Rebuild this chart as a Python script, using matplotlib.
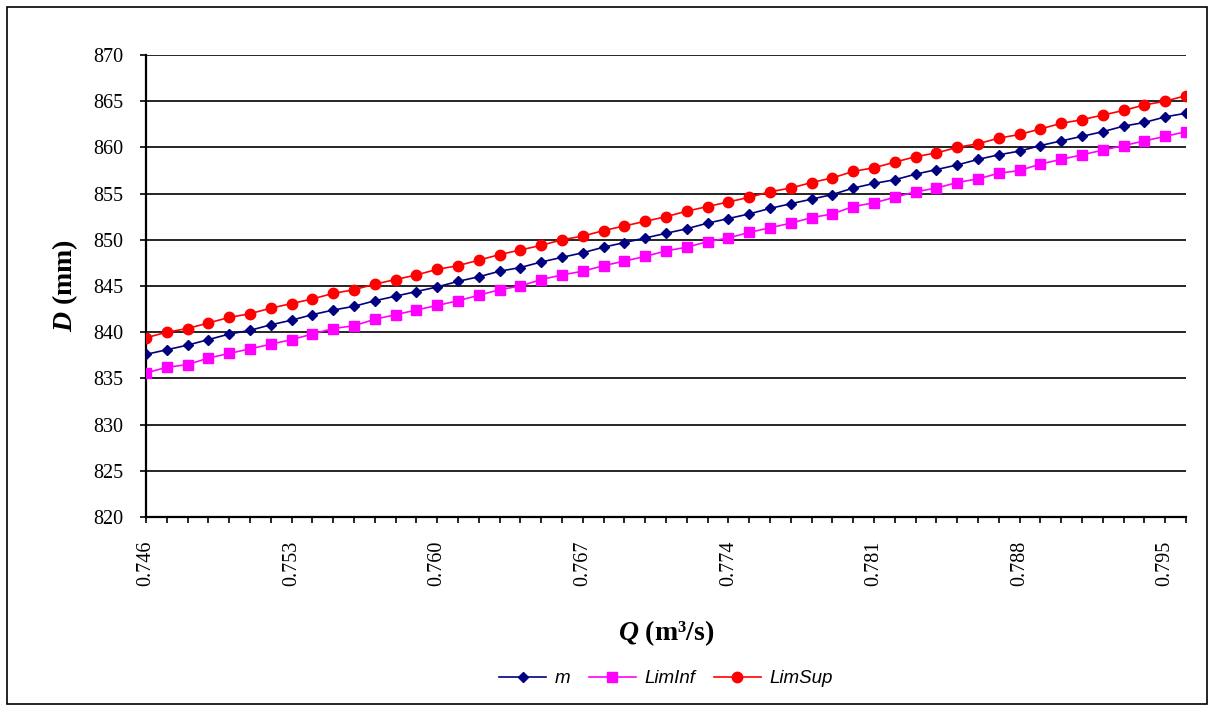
import matplotlib.pyplot as plt
from matplotlib.patches import Rectangle

plt.rcParams['font.family'] = 'Liberation Serif'
plt.rcParams['mathtext.fontset'] = 'custom'
plt.rcParams['mathtext.rm'] = 'Liberation Serif'
plt.rcParams['mathtext.bfit'] = 'Liberation Serif:italic:bold'

# Q (m3/s), one point per category
q = ['0.746', '0.747', '0.748', '0.749', '0.750', '0.751', '0.752', '0.753', '0.754',
     '0.755', '0.756', '0.757', '0.758', '0.759', '0.760', '0.761', '0.762', '0.763',
     '0.764', '0.765', '0.766', '0.767', '0.768', '0.769', '0.770', '0.771', '0.772',
     '0.773', '0.774', '0.775', '0.776', '0.777', '0.778', '0.779', '0.780', '0.781',
     '0.782', '0.783', '0.784', '0.785', '0.786', '0.787', '0.788', '0.789', '0.790',
     '0.791', '0.792', '0.793', '0.794', '0.795', '0.796']

d_m = [837.6, 838.1, 838.6, 839.2, 839.8, 840.2, 840.8, 841.3, 841.9,
       842.4, 842.8, 843.4, 843.9, 844.4, 844.9, 845.5, 846.0,
       846.6, 847.0, 847.6, 848.1, 848.6, 849.2, 849.7, 850.2,
       850.7, 851.2, 851.8, 852.3, 852.8, 853.4, 853.9, 854.4, 854.9,
       855.6, 856.1, 856.5, 857.1, 857.6, 858.1, 858.7, 859.2,
       859.6, 860.2, 860.7, 861.2, 861.7, 862.3, 862.7, 863.3, 863.7]

d_inf = [835.6, 836.2, 836.5, 837.2, 837.7, 838.2, 838.7, 839.2, 839.8,
         840.4, 840.7, 841.4, 841.9, 842.4, 842.9, 843.4, 844.0,
         844.6, 845.0, 845.7, 846.2, 846.6, 847.2, 847.7, 848.2,
         848.8, 849.2, 849.8, 850.2, 850.8, 851.3, 851.8, 852.4, 852.8,
         853.6, 854.0, 854.6, 855.2, 855.6, 856.2, 856.6, 857.2,
         857.5, 858.2, 858.7, 859.2, 859.7, 860.2, 860.7, 861.2, 861.7]

d_sup = [839.4, 840.0, 840.4, 841.0, 841.6, 842.0, 842.6, 843.1, 843.6,
         844.2, 844.6, 845.2, 845.7, 846.2, 846.8, 847.2, 847.8,
         848.4, 848.9, 849.4, 850.0, 850.4, 851.0, 851.5, 852.0,
         852.5, 853.1, 853.6, 854.1, 854.6, 855.2, 855.6, 856.2, 856.7,
         857.4, 857.8, 858.4, 859.0, 859.4, 860.0, 860.4, 861.0,
         861.4, 862.0, 862.6, 863.0, 863.5, 864.0, 864.6, 865.0, 865.6]

yticks = [820, 825, 830, 835, 840, 845, 850, 855, 860, 865, 870]

fig = plt.figure(figsize=(12.09, 7.06), dpi=100)
ax = fig.add_axes([146 / 1209, 1 - 517 / 706, (1186 - 146) / 1209, (517 - 55) / 706])

x = list(range(len(q)))
ax.plot(x, d_m, color='#000080', lw=1.2, marker='D', ms=5.5, label='m', zorder=3)
ax.plot(x, d_inf, color='#FF00FF', lw=1.2, marker='s', ms=7, label='LimInf', zorder=3)
ax.plot(x, d_sup, color='#FF0000', lw=1.2, marker='o', ms=7.5, label='LimSup', zorder=3)

ax.set_xlim(0, len(q) - 1)
ax.set_ylim(820, 870)
ax.set_yticks(yticks)
ax.yaxis.grid(True, color='black', lw=1.2)
ax.set_axisbelow(True)

ax.set_xticks(x, minor=True)
ax.set_xticks(x[::7])
ax.set_xticklabels(q[::7], rotation=90)

for s in ['top', 'right']:
    ax.spines[s].set_visible(False)
for s in ['left', 'bottom']:
    ax.spines[s].set_linewidth(1.6)

ax.tick_params(axis='y', direction='out', length=4.5, width=1.2, pad=12, labelsize=14.5)
ax.tick_params(axis='x', which='both', direction='out', length=4, width=1.2)
ax.tick_params(axis='x', which='major', pad=13, labelsize=14.5)

ax.set_xlabel(r'$\mathbfit{Q}$ (m³/s)', fontsize=20, fontweight='bold', labelpad=23)
ax.set_ylabel(r'$\mathbfit{D}$ (mm)', fontsize=20, fontweight='bold', labelpad=9)

leg = ax.legend(loc='center', bbox_to_anchor=(0.5, -0.35), ncol=3, frameon=False,
                prop={'family': 'Liberation Sans', 'style': 'italic', 'size': 13.5},
                handlelength=2.5, columnspacing=1.0, handletextpad=0.45)

fig.patches.append(Rectangle((7 / 1209, 2 / 706), 1200 / 1209, 697 / 706,
                             transform=fig.transFigure, fill=False,
                             edgecolor='black', lw=1.2))

fig.savefig('out.png', dpi=100)
